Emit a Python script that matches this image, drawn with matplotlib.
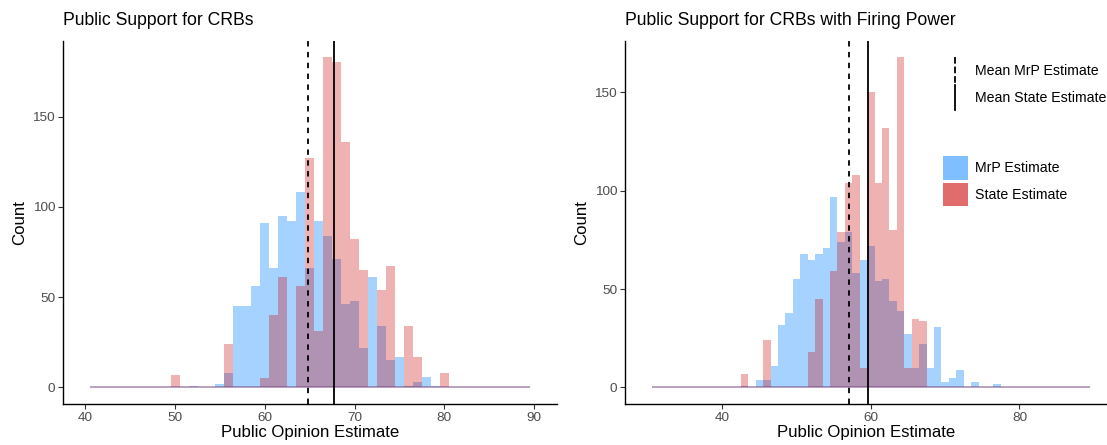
import numpy as np
import matplotlib
matplotlib.use("Agg")
import matplotlib.pyplot as plt
from matplotlib.lines import Line2D
from matplotlib.patches import Patch
from matplotlib.legend_handler import HandlerBase

plt.rcParams['font.family'] = ['Liberation Sans', 'DejaVu Sans']

# left panel: Public Support for CRBs (bin centres, counts)
left_bins = [50, 52, 55, 56, 57, 58, 59, 60, 61, 62, 63, 64, 65, 66, 67, 68,
             69, 70, 71, 72, 73, 74, 75, 76, 77, 78, 79, 80]
left_mrp = [0, 1, 2, 8, 45, 45, 56, 91, 66, 95, 92, 108, 66, 92, 84, 71,
            46, 48, 22, 61, 34, 15, 17, 1, 3, 6, 1, 0]
left_state = [7, 0, 0, 24, 0, 0, 0, 5, 40, 61, 0, 56, 127, 31, 183, 180,
              136, 82, 65, 0, 54, 67, 0, 34, 17, 0, 0, 8]
left_span = (40.5, 89.5)
left_means = {'mrp': 64.8, 'state': 67.76}

# right panel: with Firing Power
right_bins = [43, 45, 46, 47, 48, 49, 50, 51, 52, 53, 54, 55, 56, 57, 58, 59,
              60, 61, 62, 63, 64, 65, 66, 67, 68, 69, 70, 71, 72, 74, 77]
right_mrp = [1, 4, 4, 11, 32, 38, 55, 68, 65, 68, 71, 97, 74, 79, 58, 65,
             72, 54, 55, 44, 39, 27, 10, 22, 10, 31, 3, 5, 9, 3, 2]
right_state = [7, 0, 24, 0, 0, 0, 0, 0, 18, 45, 0, 59, 79, 104, 108, 10,
               150, 104, 132, 80, 168, 10, 35, 34, 0, 0, 0, 0, 0, 0, 0]
right_span = (30.5, 89.5)
right_means = {'mrp': 57.09, 'state': 59.65}

blue = '#1E90FF'
red = '#CC0000'
grey30 = '#4D4D4D'

TICK_FS = 9.7
LAB_FS = 12.1
LEG_FS = 10.2


class VLineHandler(HandlerBase):
    # ggplot style vertical key for geom_vline
    def create_artists(self, legend, orig_handle, xdescent, ydescent,
                       width, height, fontsize, trans):
        x = width / 2 - xdescent
        ext = height * 0.2
        ln = Line2D([x, x], [height - ydescent + ext, -ydescent - ext],
                    color=orig_handle.get_color(),
                    linestyle=orig_handle.get_linestyle(),
                    linewidth=orig_handle.get_linewidth(),
                    transform=trans)
        return [ln]


def draw_panel(ax, bins, mrp, state, span, means, title, xticks, xlim, ylim):
    ax.bar(bins, mrp, width=1, color=blue, alpha=0.4, linewidth=0)
    ax.bar(bins, state, width=1, color=red, alpha=0.3, linewidth=0)
    ax.hlines(0, span[0], span[1], color=blue, alpha=0.4, lw=1.2)
    ax.hlines(0, span[0], span[1], color=red, alpha=0.3, lw=1.2)
    ax.axvline(means['mrp'], color='black', ls=(0, (3, 3)), lw=1.3)
    ax.axvline(means['state'], color='black', lw=1.3)
    ax.set_xlim(*xlim)
    ax.set_ylim(*ylim)
    ax.set_xticks(xticks)
    ax.set_yticks([0, 50, 100, 150])
    for s in ['top', 'right']:
        ax.spines[s].set_visible(False)
    for s in ['left', 'bottom']:
        ax.spines[s].set_linewidth(1.0)
    ax.tick_params(direction='out', length=3.7, width=0.8, colors='#333333',
                   labelcolor=grey30, labelsize=TICK_FS, pad=2)
    ax.set_xlabel('Public Opinion Estimate', fontsize=LAB_FS, labelpad=1)
    ax.set_ylabel('Count', fontsize=LAB_FS, labelpad=4)
    ax.set_title(title, loc='left', fontsize=12.7, pad=11)


fig = plt.figure(figsize=(11.07, 4.45), dpi=100)
ax1 = fig.add_axes([63 / 1107, 1 - 404 / 445, 494 / 1107, 363.5 / 445])
ax2 = fig.add_axes([625 / 1107, 1 - 404 / 445, 482 / 1107, 363.5 / 445])

draw_panel(ax1, left_bins, left_mrp, left_state, left_span, left_means,
           'Public Support for CRBs', [40, 50, 60, 70, 80, 90],
           (37.51, 92.56), (-9.15, 192.15))
draw_panel(ax2, right_bins, right_mrp, right_state, right_span, right_means,
           'Public Support for CRBs with Firing Power', [40, 60, 80],
           (26.9, 91.78), (-8.4, 176.4))

line_handles = [Line2D([], [], color='black', ls=(0, (3, 3)), lw=1.3),
                Line2D([], [], color='black', lw=1.3)]
leg1 = fig.legend(line_handles, ['Mean MrP Estimate', 'Mean State Estimate'],
                  handler_map={Line2D: VLineHandler()},
                  loc='upper left', bbox_to_anchor=(942.5 / 1107, 1 - 61 / 445),
                  frameon=False, fontsize=LEG_FS, borderpad=0, borderaxespad=0,
                  handlelength=1.76, handleheight=1.6, handletextpad=0.5,
                  labelspacing=0.65)

fill_handles = [Patch(facecolor='#80BFFF', edgecolor='none'),
                Patch(facecolor='#E06C6C', edgecolor='none')]
leg2 = fig.legend(fill_handles, ['MrP Estimate', 'State Estimate'],
                  loc='upper left', bbox_to_anchor=(943 / 1107, 1 - 156 / 445),
                  frameon=False, fontsize=LEG_FS, borderpad=0, borderaxespad=0,
                  handlelength=1.76, handleheight=2.2, handletextpad=0.5,
                  labelspacing=0.2)

fig.savefig('out.png', dpi=100)
